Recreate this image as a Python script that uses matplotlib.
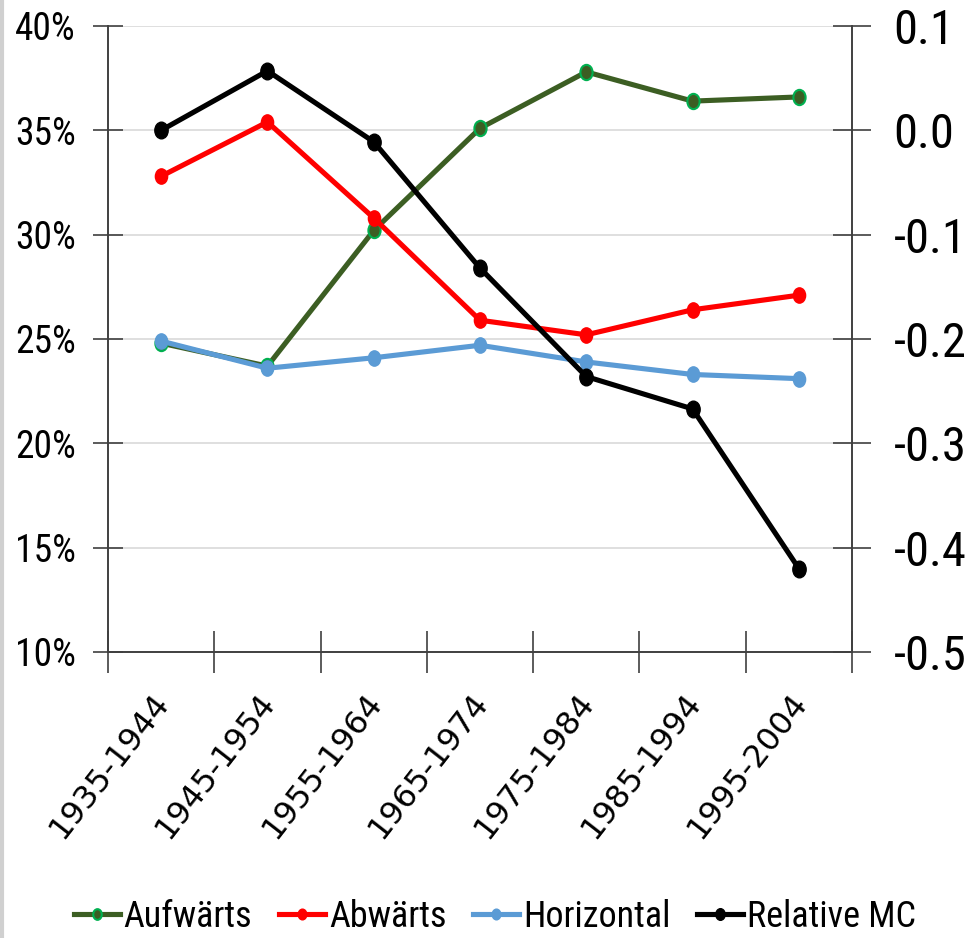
import numpy as np
import matplotlib
matplotlib.use("Agg")
import matplotlib.pyplot as plt
from matplotlib import font_manager
from matplotlib.lines import Line2D
from matplotlib.path import Path
from matplotlib.transforms import Affine2D, ScaledTranslation

periods = ["1935-1944", "1945-1954", "1955-1964", "1965-1974",
           "1975-1984", "1985-1994", "1995-2004"]

# shares in percent (left axis)
aufwaerts = [24.8, 23.7, 30.2, 35.1, 37.8, 36.4, 36.6]
abwaerts = [32.8, 35.4, 30.8, 25.9, 25.2, 26.4, 27.1]
horizontal = [24.9, 23.6, 24.1, 24.7, 23.9, 23.3, 23.1]
# relative MC (right axis)
relative_mc = [0.000, 0.057, -0.011, -0.132, -0.236, -0.267, -0.420]

left_ticks = [10, 15, 20, 25, 30, 35, 40]
right_ticks = [-0.5, -0.4, -0.3, -0.2, -0.1, 0.0, 0.1]


def pick_font(names):
    available = {f.name for f in font_manager.fontManager.ttflist}
    for n in names:
        if n in available:
            return n
    return "DejaVu Sans"


def main():
    narrow = pick_font(["Liberation Sans Narrow", "Roboto Condensed", "Liberation Sans"])
    # slightly tall oval dot
    dot = Path.unit_circle().transformed(Affine2D().scale(1, 1.25))

    fig = plt.figure(figsize=(9.65, 9.38), dpi=100)
    ax = fig.add_axes([108 / 965, 1 - 652 / 938, 744 / 965, 626 / 938])
    ax2 = ax.twinx()

    x = np.arange(len(periods))
    ax.set_xlim(-0.5, len(periods) - 0.5)
    ax.set_ylim(10, 40)
    ax2.set_ylim(-0.5, 0.1)

    ax.grid(axis="y", color="#d9d9d9", linewidth=1.2)
    ax.set_axisbelow(True)

    ax.plot(x, aufwaerts, color="#3c5e23", lw=3.7, marker=dot, ms=11,
            mfc="#3c5e23", mec="#00b050", mew=1.5, label="Aufwärts")
    ax.plot(x, abwaerts, color="#ff0000", lw=3.7, marker=dot, ms=11,
            mfc="#ff0000", mec="#ff0000", label="Abwärts")
    ax.plot(x, horizontal, color="#5b9bd5", lw=3.7, marker=dot, ms=11,
            mfc="#5b9bd5", mec="#5b9bd5", label="Horizontal")
    ax2.plot(x, relative_mc, color="black", lw=3.7, marker=dot, ms=12,
             mfc="black", mec="black", label="Relative MC")

    for a in (ax, ax2):
        a.spines["top"].set_visible(False)
        for s in a.spines.values():
            s.set_color("#404040")
            s.set_linewidth(1.2)

    ax.set_yticks(left_ticks)
    ax.set_yticklabels([f"{v}%" for v in left_ticks], fontfamily=narrow, fontsize=27)
    ax.tick_params(axis="y", direction="inout", length=22, width=1.2,
                   color="#404040", pad=12)

    ax2.set_yticks(right_ticks)
    ax2.set_yticklabels([f"{v:.1f}" for v in right_ticks], fontfamily=narrow, fontsize=35)
    ax2.tick_params(axis="y", direction="inout", length=28, width=1.2,
                    color="#404040", pad=16)

    # category ticks sit on the boundaries, labels at the centres
    ax.set_xticks(np.arange(len(periods) + 1) - 0.5)
    ax.set_xticklabels([])
    ax.set_xticks(x, minor=True)
    ax.set_xticklabels(periods, minor=True, rotation=52, ha="right",
                       rotation_mode="anchor", fontsize=23)
    ax.tick_params(axis="x", which="major", direction="inout", length=30,
                   width=1.2, color="#404040")
    ax.tick_params(axis="x", which="minor", length=0, pad=26)
    shift = ScaledTranslation(-10 / 100, 0, fig.dpi_scale_trans)
    for lbl in ax.get_xticklabels(minor=True):
        lbl.set_transform(lbl.get_transform() + shift)

    handles = ax.get_lines() + ax2.get_lines()
    fig.legend(handles, [h.get_label() for h in handles], loc="center",
               bbox_to_anchor=(0.513, 1 - 917 / 938), ncol=4, frameon=False,
               prop={"family": narrow, "size": 26}, handlelength=1.27,
               handletextpad=0.1, columnspacing=0.75, markerscale=0.7)

    fig.add_artist(Line2D([0.002, 0.002], [0, 1], color="#d0d0d0", lw=3,
                          transform=fig.transFigure))

    fig.savefig("out.png", dpi=100)


if __name__ == "__main__":
    main()
